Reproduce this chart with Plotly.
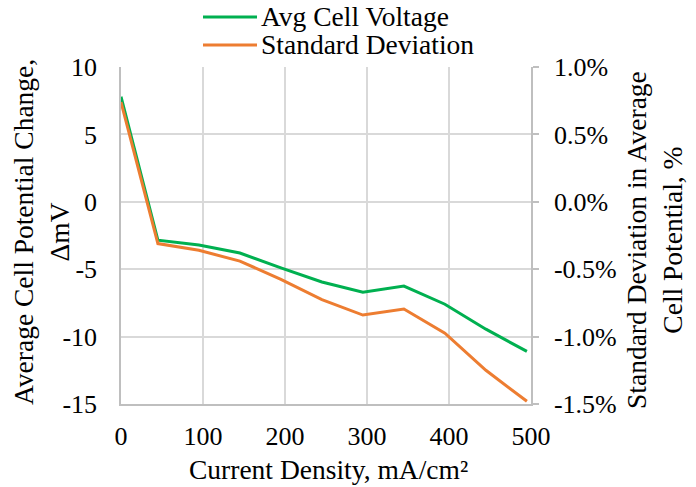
import plotly.graph_objects as go

# Current density sweep (mA/cm^2)
current_density = [0, 45, 95, 145, 195, 245, 295, 345, 395, 445, 495]
# Average cell potential change (mV)
avg_cell_voltage = [7.8, -2.85, -3.2, -3.8, -4.9, -5.95, -6.7, -6.25, -7.6, -9.45, -11.1]
# Standard deviation in average cell potential (fraction, shown as %)
std_deviation = [0.0074, -0.0031, -0.0036, -0.0044, -0.00575, -0.00725, -0.0084, -0.00795, -0.00975, -0.0125, -0.0148]

x_ticks = [0, 100, 200, 300, 400, 500]
y_ticks = [-15, -10, -5, 0, 5, 10]
y_tick_text = ["-15", "-10", "-5", "0", "5", "10"]
y2_ticks = [-0.015, -0.010, -0.005, 0.0, 0.005, 0.010]
y2_tick_text = ["-1.5%", "-1.0%", "-0.5%", "0.0%", "0.5%", "1.0%"]

series_names = ["Avg Cell Voltage", "Standard Deviation"]
GREEN = "#00b050"
ORANGE = "#ed7d31"
FONT = "Liberation Serif"
GRID = "#d9d9d9"
AXIS = "#bfbfbf"
TICK_SIZE = 26
TITLE_SIZE = 27.5

# plot-area geometry in pixels
L, R, T, B = 121, 165, 67, 83
W, H = 696, 487
pw, ph = W - L - R, H - T - B


def px_x(px):
    return (px - L) / pw


def px_y(py):
    return (H - B - py) / ph


fig = go.Figure()
fig.add_trace(go.Scatter(x=current_density, y=avg_cell_voltage, mode="lines",
                         name=series_names[0], line=dict(color=GREEN, width=3),
                         yaxis="y", showlegend=False))
fig.add_trace(go.Scatter(x=current_density, y=std_deviation, mode="lines",
                         name=series_names[1], line=dict(color=ORANGE, width=3),
                         yaxis="y2", showlegend=False))

tickfont = dict(family=FONT, size=TICK_SIZE, color="black")
fig.update_layout(
    width=W, height=H,
    margin=dict(l=L, r=R, t=T, b=B, pad=0),
    paper_bgcolor="white", plot_bgcolor="white",
    font=dict(family=FONT, size=TICK_SIZE, color="black"),
    xaxis=dict(range=[0, 500], tickvals=x_ticks, ticktext=[str(v) for v in x_ticks],
               showgrid=True, gridcolor=GRID, gridwidth=1.5,
               showline=True, linecolor=AXIS, linewidth=1.5,
               ticks="", zeroline=False, ticklabelstandoff=8, tickfont=tickfont),
    yaxis=dict(range=[-15, 10], tickvals=y_ticks, ticktext=y_tick_text,
               showgrid=True, gridcolor=GRID, gridwidth=1.5,
               showline=True, linecolor=AXIS, linewidth=1.5,
               ticks="", zeroline=False, ticklabelstandoff=17, tickfont=tickfont),
    yaxis2=dict(range=[-0.015, 0.010], tickvals=y2_ticks, ticktext=y2_tick_text,
                overlaying="y", side="right", showgrid=False, zeroline=False,
                showline=True, linecolor=AXIS, linewidth=1.5,
                ticks="outside", ticklen=6, tickcolor=AXIS, tickwidth=1.5,
                ticklabelstandoff=10, tickfont=tickfont),
)

titlefont = dict(family=FONT, size=TITLE_SIZE, color="black")
# axis titles
fig.add_annotation(text="Current Density, mA/cm²", xref="paper", yref="paper",
                   x=px_x(328), y=px_y(470), xanchor="center", yanchor="middle",
                   showarrow=False, font=titlefont)
fig.add_annotation(text="Average Cell Potential Change,<br>ΔmV", xref="paper", yref="paper",
                   x=px_x(41), y=px_y(232), xanchor="center", yanchor="middle",
                   textangle=-90, showarrow=False, font=titlefont)
fig.add_annotation(text="Standard Deviation in Average<br>Cell Potential, %", xref="paper", yref="paper",
                   x=px_x(654), y=px_y(240), xanchor="center", yanchor="middle",
                   textangle=-90, showarrow=False, font=titlefont)

# legend
for name, color, py in [(series_names[0], GREEN, 17), (series_names[1], ORANGE, 45)]:
    fig.add_shape(type="line", xref="paper", yref="paper",
                  x0=px_x(203), x1=px_x(257), y0=px_y(py), y1=px_y(py),
                  line=dict(color=color, width=3))
    fig.add_annotation(text=name, xref="paper", yref="paper",
                       x=px_x(259), y=px_y(py), xanchor="left", yanchor="middle",
                       showarrow=False, font=titlefont)

fig.write_html("out.html")
